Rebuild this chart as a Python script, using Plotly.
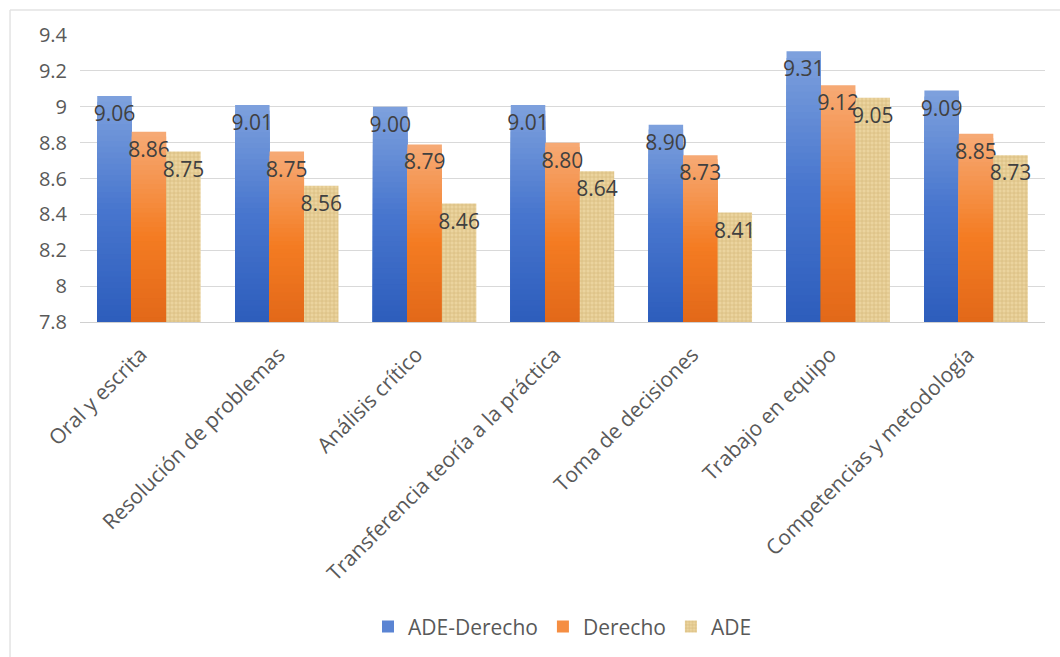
import plotly.graph_objects as go

# Competency scores per degree programme
categorias = [
    "Oral y escrita",
    "Resolución de problemas",
    "Análisis crítico",
    "Transferencia teoría a la práctica",
    "Toma de decisiones",
    "Trabajo en equipo",
    "Competencias y metodología",
]
ade_derecho = [9.06, 9.01, 9.00, 9.01, 8.90, 9.31, 9.09]
derecho = [8.86, 8.75, 8.79, 8.80, 8.73, 9.12, 8.85]
ade = [8.75, 8.56, 8.46, 8.64, 8.41, 9.05, 8.73]

series_nombres = ["ADE-Derecho", "Derecho", "ADE"]
y_min, y_max = 7.8, 9.4
y_ticks = [7.8, 8.0, 8.2, 8.4, 8.6, 8.8, 9.0, 9.2, 9.4]

FONT = "Open Sans, Segoe UI, sans-serif"
LABEL_FONT = dict(family=FONT, size=21, color="#404040")

# colour stops (fraction from top of each bar, rgb)
blue_stops = [(0.0, (126, 161, 221)), (0.5, (72, 118, 206)), (1.0, (45, 93, 188))]
orange_stops = [(0.0, (246, 170, 118)), (0.55, (244, 124, 34)), (1.0, (226, 104, 25))]
N_BANDS = 40


def color_at(stops, t):
    for (t0, c0), (t1, c1) in zip(stops, stops[1:]):
        if t <= t1:
            f = (t - t0) / (t1 - t0) if t1 > t0 else 0
            return "rgb({},{},{})".format(*[round(a + (b - a) * f) for a, b in zip(c0, c1)])
    return "rgb({},{},{})".format(*stops[-1][1])


fig = go.Figure()


def gradient_bars(name, values, stops, group):
    """Bars shaded top-to-bottom: nested bars, each shorter one drawn over the previous."""
    for k in range(N_BANDS):
        t = (k + 0.5) / N_BANDS  # fraction from the top
        tops = [v - (v - y_min) * k / N_BANDS for v in values]
        fig.add_trace(go.Bar(
            name=name,
            x=categorias,
            y=[top - y_min for top in tops],
            base=[y_min] * len(values),
            offsetgroup=group,
            legendgroup=group,
            showlegend=(k == N_BANDS // 3),
            marker=dict(color=color_at(stops, t), line=dict(width=0)),
            hoverinfo="skip",
        ))


def label_bars(values, group):
    """Transparent full-height bars carrying the value labels."""
    fig.add_trace(go.Bar(
        x=categorias,
        y=[v - y_min for v in values],
        base=[y_min] * len(values),
        offsetgroup=group,
        legendgroup=group,
        showlegend=False,
        text=[f"{v:.2f}" for v in values],
        textposition="inside",
        insidetextanchor="end",
        textangle=0,
        constraintext="none",
        cliponaxis=False,
        textfont=LABEL_FONT,
        insidetextfont=LABEL_FONT,
        marker=dict(color="rgba(0,0,0,0)", line=dict(width=0)),
        hoverinfo="skip",
    ))


gradient_bars(series_nombres[0], ade_derecho, blue_stops, "g1")
label_bars(ade_derecho, "g1")
gradient_bars(series_nombres[1], derecho, orange_stops, "g2")
label_bars(derecho, "g2")

# burlap-textured bars
fig.add_trace(go.Bar(
    name=series_nombres[2],
    x=categorias,
    y=[v - y_min for v in ade],
    base=[y_min] * len(ade),
    offsetgroup="g3",
    legendgroup="g3",
    text=[f"{v:.2f}" for v in ade],
    textposition="inside",
    insidetextanchor="end",
    textangle=0,
    constraintext="none",
    cliponaxis=False,
    textfont=LABEL_FONT,
    insidetextfont=LABEL_FONT,
    marker=dict(
        color="#e8d098",
        line=dict(width=0),
        pattern=dict(shape="+", fgcolor="#c6a560", bgcolor="#ebd49e",
                     size=4, solidity=0.35, fillmode="overlay"),
    ),
    hoverinfo="skip",
))

fig.update_layout(
    width=1060,
    height=657,
    margin=dict(l=80, r=15, t=35, b=334),
    paper_bgcolor="white",
    plot_bgcolor="white",
    barmode="group",
    bargap=0.25,
    bargroupgap=0,
    font=dict(family=FONT, color="#595959"),
    showlegend=True,
    legend=dict(
        orientation="h",
        x=0.5, xanchor="center",
        y=-1.055, yanchor="middle",
        font=dict(family=FONT, size=21, color="#595959"),
        itemclick=False,
        itemwidth=30,
    ),
    xaxis=dict(
        type="category",
        tickangle=-45,
        tickfont=dict(family=FONT, size=21, color="#595959"),
        showline=True,
        linecolor="#d0d0d0",
        linewidth=1,
        showgrid=False,
        ticks="",
        ticklabelstandoff=11,
        ticklabelshift=-8,
    ),
    yaxis=dict(
        range=[y_min, y_max],
        tickvals=y_ticks,
        ticktext=[f"{t:g}" for t in y_ticks],
        tickfont=dict(family=FONT, size=20, color="#595959"),
        showgrid=True,
        gridcolor="#d9d9d9",
        gridwidth=1,
        zeroline=False,
        showline=False,
        ticks="",
        ticklabelstandoff=12,
    ),
    shapes=[
        # thin frame along the left and top edges of the chart area
        dict(type="line", xref="paper", yref="paper",
             x0=-0.0725, x1=-0.0725, y0=1.087, y1=-1.2,
             line=dict(color="#e3e3e3", width=1.5)),
        dict(type="line", xref="paper", yref="paper",
             x0=-0.0725, x1=1.03, y0=1.087, y1=1.087,
             line=dict(color="#e3e3e3", width=1.5)),
    ],
)

fig.write_html("out.html", config={"displayModeBar": False})
